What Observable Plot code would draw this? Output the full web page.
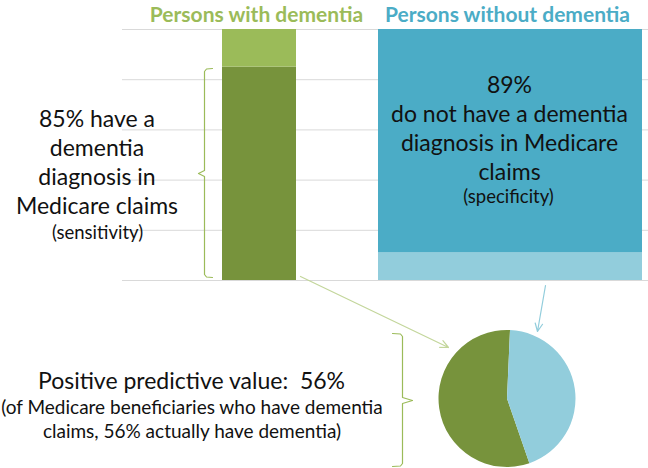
<!DOCTYPE html>
<html>
<head>
<meta charset="utf-8">
<script src="https://cdn.jsdelivr.net/npm/d3@7"></script>
<script src="https://cdn.jsdelivr.net/npm/@observablehq/plot@0.6"></script>
<style>
  html, body { margin: 0; padding: 0; background: #fff; }
  svg text { white-space: pre; }
</style>
</head>
<body>
<div id="chart"></div>
<script>
// ---------- data ----------
const groups = ["Persons with dementia", "Persons without dementia"];
const withParts = ["Dementia diagnosis in claims", "No dementia diagnosis in claims"];
const withValues = [85, 15];
const withoutParts = ["Dementia diagnosis in claims", "No dementia diagnosis in claims"];
const withoutValues = [11, 89];
const ppvParts = ["Actually have dementia", "Do not have dementia"];
const ppvValues = [56, 44];
const gridTicks = [0, 20, 40, 60, 80, 100];
const sensitivityLines = ["85% have a", "dementia", "diagnosis in", "Medicare claims"];
const sensitivityNote = ["(sensitivity)"];
const specificityLines = ["89%", "do not have a dementia", "diagnosis in Medicare", "claims"];
const specificityNote = ["(specificity)"];
const ppvTitle = ["Positive predictive value:  56%"];
const ppvNoteLines = ["(of Medicare beneficiaries who have dementia", "claims, 56% actually have dementia)"];

// ---------- layout / styles ----------
const W = 648, H = 468;
const yBottomPx = 280, yTopPx = 29;
const Y = d3.scaleLinear([0, 100], [yBottomPx, yTopPx]);
const py = (p) => Y.invert(p);
const font = "Lato, 'Open Sans', sans-serif";
const colors = {
  withDx: "#77933C", withNoDx: "#9BBB59",
  withoutDx: "#92CDDC", withoutNoDx: "#4BACC6"
};
const barX = {with: [222, 296], without: [378, 642]};

const withRows = withParts.map((p, i) => ({group: groups[0], key: "with|" + p, value: withValues[i]}));
const withoutRows = withoutParts.map((p, i) => ({group: groups[1], key: "without|" + p, value: withoutValues[i]}));
const ppvRows = ppvParts.map((p, i) => ({key: "ppv|" + p, value: ppvValues[i]}));

const colorDomain = [
  "with|" + withParts[0], "with|" + withParts[1],
  "without|" + withoutParts[0], "without|" + withoutParts[1],
  "ppv|" + ppvParts[0], "ppv|" + ppvParts[1]
];
const colorRange = [colors.withDx, colors.withNoDx, colors.withoutDx, colors.withoutNoDx, colors.withDx, colors.withoutDx];

const lines = (arr, cx, base, step) => arr.map((t, i) => ({t, x: cx, y: py(base + i * step)}));

// pie as a custom mark, drawn through the plot's scales
const pieMark = (index, scales) => {
  const cx = scales.x(507), cy = scales.y(py(398.5)), r = 68.5;
  const start = 2 * Math.PI * (0.007 + ppvValues[1] / 100);
  const arcs = d3.pie().sort(null).value(d => d.value)
    .startAngle(start).endAngle(start + 2 * Math.PI)(ppvRows);
  const arc = d3.arc().innerRadius(0).outerRadius(r);
  const g = d3.create("svg:g").attr("transform", `translate(${cx},${cy})`);
  g.selectAll("path").data(arcs).join("path")
    .attr("d", arc)
    .attr("fill", d => scales.color(d.data.key));
  return g.node();
};

const leftBrace = [[212,68],[206,68.5],[204,71],[204,170],[198,173],[204,176],[204,274],[206,276.5],[212,277]]
  .map(([x, y]) => ({x, y: py(y)}));
const bottomBrace = [[392,333],[400,333.5],[402,336],[402,397],[412,400],[402,403],[402,463],[400,465.5],[392,466]]
  .map(([x, y]) => ({x, y: py(y)}));
const arrows = [
  {x1: 300, y1: py(276), x2: 448, y2: py(347), c: "#C3D69B"},
  {x1: 545, y1: py(285), x2: 537, y2: py(331), c: "#92CDDC"}
];

const chart = Plot.plot({
  width: W, height: H,
  marginTop: 0, marginRight: 0, marginBottom: 0, marginLeft: 0,
  x: {domain: [0, W], range: [0, W], axis: null},
  y: {domain: [0, 100], range: [yBottomPx, yTopPx], axis: null},
  color: {domain: colorDomain, range: colorRange},
  style: {fontFamily: font, background: "#fff", overflow: "visible"},
  marks: [
    Plot.ruleY(gridTicks, {x1: 122, x2: 648, stroke: "#D9D9D9", strokeWidth: 1}),
    Plot.rectY(withRows, Plot.stackY({x1: barX.with[0], x2: barX.with[1], y: "value", fill: "key"})),
    Plot.rectY(withoutRows, Plot.stackY({x1: barX.without[0], x2: barX.without[1], y: "value", fill: "key"})),
    // titles
    Plot.text([groups[0]], {x: 256, y: py(21), text: d => d, lineAnchor: "bottom", fontSize: 21, fontWeight: "bold", fill: colors.withNoDx}),
    Plot.text([groups[1]], {x: 507, y: py(21), text: d => d, lineAnchor: "bottom", fontSize: 21, fontWeight: "bold", fill: colors.withoutNoDx}),
    // sensitivity text
    Plot.text(lines(sensitivityLines, 96.5, 126, 29.3), {x: "x", y: "y", text: "t", lineAnchor: "bottom", fontSize: 23, fill: "#111"}),
    Plot.text(lines(sensitivityNote, 97, 238, 0), {x: "x", y: "y", text: "t", lineAnchor: "bottom", fontSize: 18.5, fill: "#111"}),
    // specificity text
    Plot.text(lines(specificityLines, 509, 92, 29), {x: "x", y: "y", text: "t", lineAnchor: "bottom", fontSize: 23, fill: "#111"}),
    Plot.text(lines(specificityNote, 508, 202, 0), {x: "x", y: "y", text: "t", lineAnchor: "bottom", fontSize: 18.5, fill: "#111"}),
    // PPV text
    Plot.text(lines(ppvTitle, 191, 388, 0), {x: "x", y: "y", text: "t", lineAnchor: "bottom", fontSize: 23, fill: "#111"}),
    Plot.text(lines(ppvNoteLines, 191.5, 413, 24), {x: "x", y: "y", text: "t", lineAnchor: "bottom", fontSize: 19, fill: "#111"}),
    // braces
    Plot.line(leftBrace, {x: "x", y: "y", stroke: colors.withNoDx, strokeWidth: 1.2}),
    Plot.line(bottomBrace, {x: "x", y: "y", stroke: colors.withNoDx, strokeWidth: 1.2}),
    // arrows
    Plot.arrow(arrows, {x1: "x1", y1: "y1", x2: "x2", y2: "y2", stroke: "c", strokeWidth: 1.2, headLength: 11, headAngle: 50}),
    // pie
    pieMark
  ]
});
document.getElementById("chart").appendChild(chart);
</script>
</body>
</html>
